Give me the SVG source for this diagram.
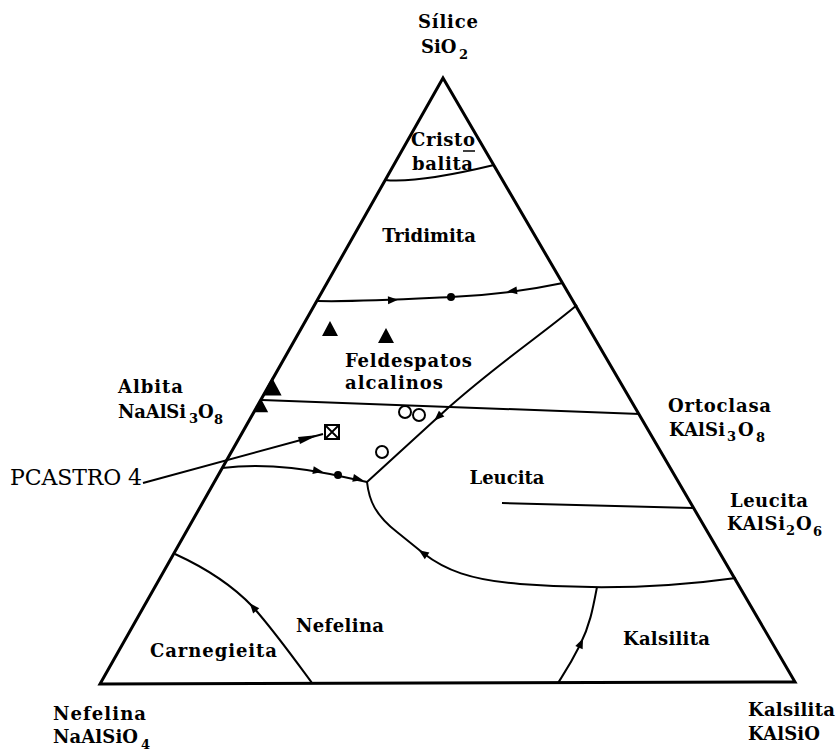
<svg xmlns="http://www.w3.org/2000/svg" xmlns:xlink="http://www.w3.org/1999/xlink" width="839" height="754" viewBox="0 0 839 754">
<style>
.lb{font-family:"DejaVu Serif","Liberation Serif",serif;font-weight:bold;font-size:18px;fill:#000}
.sub{font-family:"DejaVu Serif","Liberation Serif",serif;font-weight:bold;font-size:13px;fill:#000}
.ln{fill:none;stroke:#000;stroke-width:2}
.edge{fill:none;stroke:#000;stroke-width:3;stroke-linejoin:miter}
.oc{fill:#fff;stroke:#000;stroke-width:2}
</style>
<defs>
<polygon id="ah" points="5,0 -5,-4 -5,4" fill="#000"/>
<polygon id="tri" points="0,-8 8,7 -8,7" fill="#000"/>
</defs>
<rect width="839" height="754" fill="#fff"/>

<g id="triangle">
<polygon class="edge" points="443,78 100,684 795,682"/>
</g>

<g id="connectors">
<path class="ln" d="M385,180 C405,182 440,178 494,165"/>
<path class="ln" d="M317,301 C360,302 410,299 451,297 S530,290 563,283"/>
<path class="ln" d="M262,400 L640,414"/>
<path class="ln" d="M502,503 L693,508"/>
<path class="ln" d="M222,468 C255,464 295,467 330,474 L367,482"/>
<path class="ln" d="M367,482 L448,408 C500,362 540,336 577,305"/>
<path class="ln" d="M367,482 C369,500 375,515 397,532 L423,553 C445,570 470,580 520,584 S650,590 736,578"/>
<path class="ln" d="M597,587 C593,608 590,625 580,645 S565,672 558,683"/>
<path class="ln" d="M175,554 C210,570 235,588 253,607 C275,632 295,660 312,683"/>
<path class="ln" d="M143,483 L323,434"/>
<polygon points="318,435 298,437 300,444" fill="#000"/>
<use xlink:href="#ah" transform="translate(393,300) rotate(-2)"/>
<circle cx="451" cy="297" r="4" fill="#000"/>
<use xlink:href="#ah" transform="translate(512,291) rotate(173)"/>
<use xlink:href="#ah" transform="translate(318,471) rotate(10)"/>
<circle cx="338" cy="475" r="4" fill="#000"/>
<use xlink:href="#ah" transform="translate(358,479) rotate(12)"/>
<use xlink:href="#ah" transform="translate(438,417) rotate(137)"/>
<use xlink:href="#ah" transform="translate(423,553) rotate(-145)"/>
<use xlink:href="#ah" transform="translate(581,643) rotate(-66)"/>
<use xlink:href="#ah" transform="translate(253,607) rotate(-130)"/>
</g>

<g id="points">
<use xlink:href="#tri" transform="translate(330,329)"/>
<use xlink:href="#tri" transform="translate(386,336)"/>
<use xlink:href="#tri" transform="translate(272,387) scale(1.2)"/>
<use xlink:href="#tri" transform="translate(261,406) scale(0.9)"/>
<circle class="oc" cx="405" cy="412" r="6"/>
<circle class="oc" cx="419" cy="415" r="6"/>
<circle class="oc" cx="382" cy="452" r="6"/>
<g id="pcastro-point">
<rect x="325" y="425" width="14" height="14" fill="#fff" stroke="#000" stroke-width="2"/>
<path d="M325,425 L339,439 M339,425 L325,439" stroke="#000" stroke-width="1.8"/>
</g>
</g>

<g id="labels">
<g id="silice"><text class="lb" x="418" y="28" textLength="60">Sílice</text>
<text class="lb" x="421" y="53">SiO</text><text class="sub" x="459" y="59">2</text></g>
<g id="cristobalita"><text class="lb" x="411" y="146" textLength="64">Cristo</text>
<line x1="463" y1="151" x2="475" y2="151" stroke="#000" stroke-width="1.5"/>
<text class="lb" x="412" y="170" textLength="61">balita</text></g>
<g id="tridimita"><text class="lb" x="429" y="242" text-anchor="middle">Tridimita</text></g>
<g id="feldespatos"><text class="lb" x="345" y="367" textLength="127">Feldespatos</text>
<text class="lb" x="345" y="389" textLength="98">alcalinos</text></g>
<g id="albita"><text class="lb" x="118" y="393" textLength="65">Albita</text>
<text class="lb" x="118" y="418" textLength="68">NaAlSi</text><text class="sub" x="189" y="423">3</text><text class="lb" x="198" y="418">O</text><text class="sub" x="214" y="424">8</text></g>
<g id="pcastro"><text x="10" y="485" font-family="DejaVu Serif, Liberation Serif, serif" font-size="22" textLength="132">PCASTRO 4</text></g>
<g id="ortoclasa"><text class="lb" x="668" y="412" textLength="103">Ortoclasa</text>
<text class="lb" x="669" y="436" textLength="56">KAlSi</text><text class="sub" x="727" y="441">3</text><text class="lb" x="738" y="436">O</text><text class="sub" x="756" y="442">8</text></g>
<g id="leucita-r"><text class="lb" x="730" y="507" textLength="78">Leucita</text>
<text class="lb" x="727" y="530" textLength="58">KAlSi</text><text class="sub" x="786" y="535">2</text><text class="lb" x="796" y="530">O</text><text class="sub" x="813" y="536">6</text></g>
<g id="leucita-in"><text class="lb" x="507" y="484" text-anchor="middle">Leucita</text></g>
<g id="nefelina-in"><text class="lb" x="296" y="632" textLength="88">Nefelina</text></g>
<g id="carnegieita"><text class="lb" x="150" y="657" textLength="127">Carnegieita</text></g>
<g id="kalsilita-in"><text class="lb" x="623" y="645" textLength="87">Kalsilita</text></g>
<g id="nefelina-b"><text class="lb" x="53" y="720" textLength="93">Nefelina</text>
<text class="lb" x="53" y="743" textLength="85">NaAlSiO</text><text class="sub" x="141" y="749">4</text></g>
<g id="kalsilita-b"><text class="lb" x="748" y="716" textLength="87">Kalsilita</text>
<text class="lb" x="748" y="740" textLength="72">KAlSiO</text></g>
</g>
</svg>
